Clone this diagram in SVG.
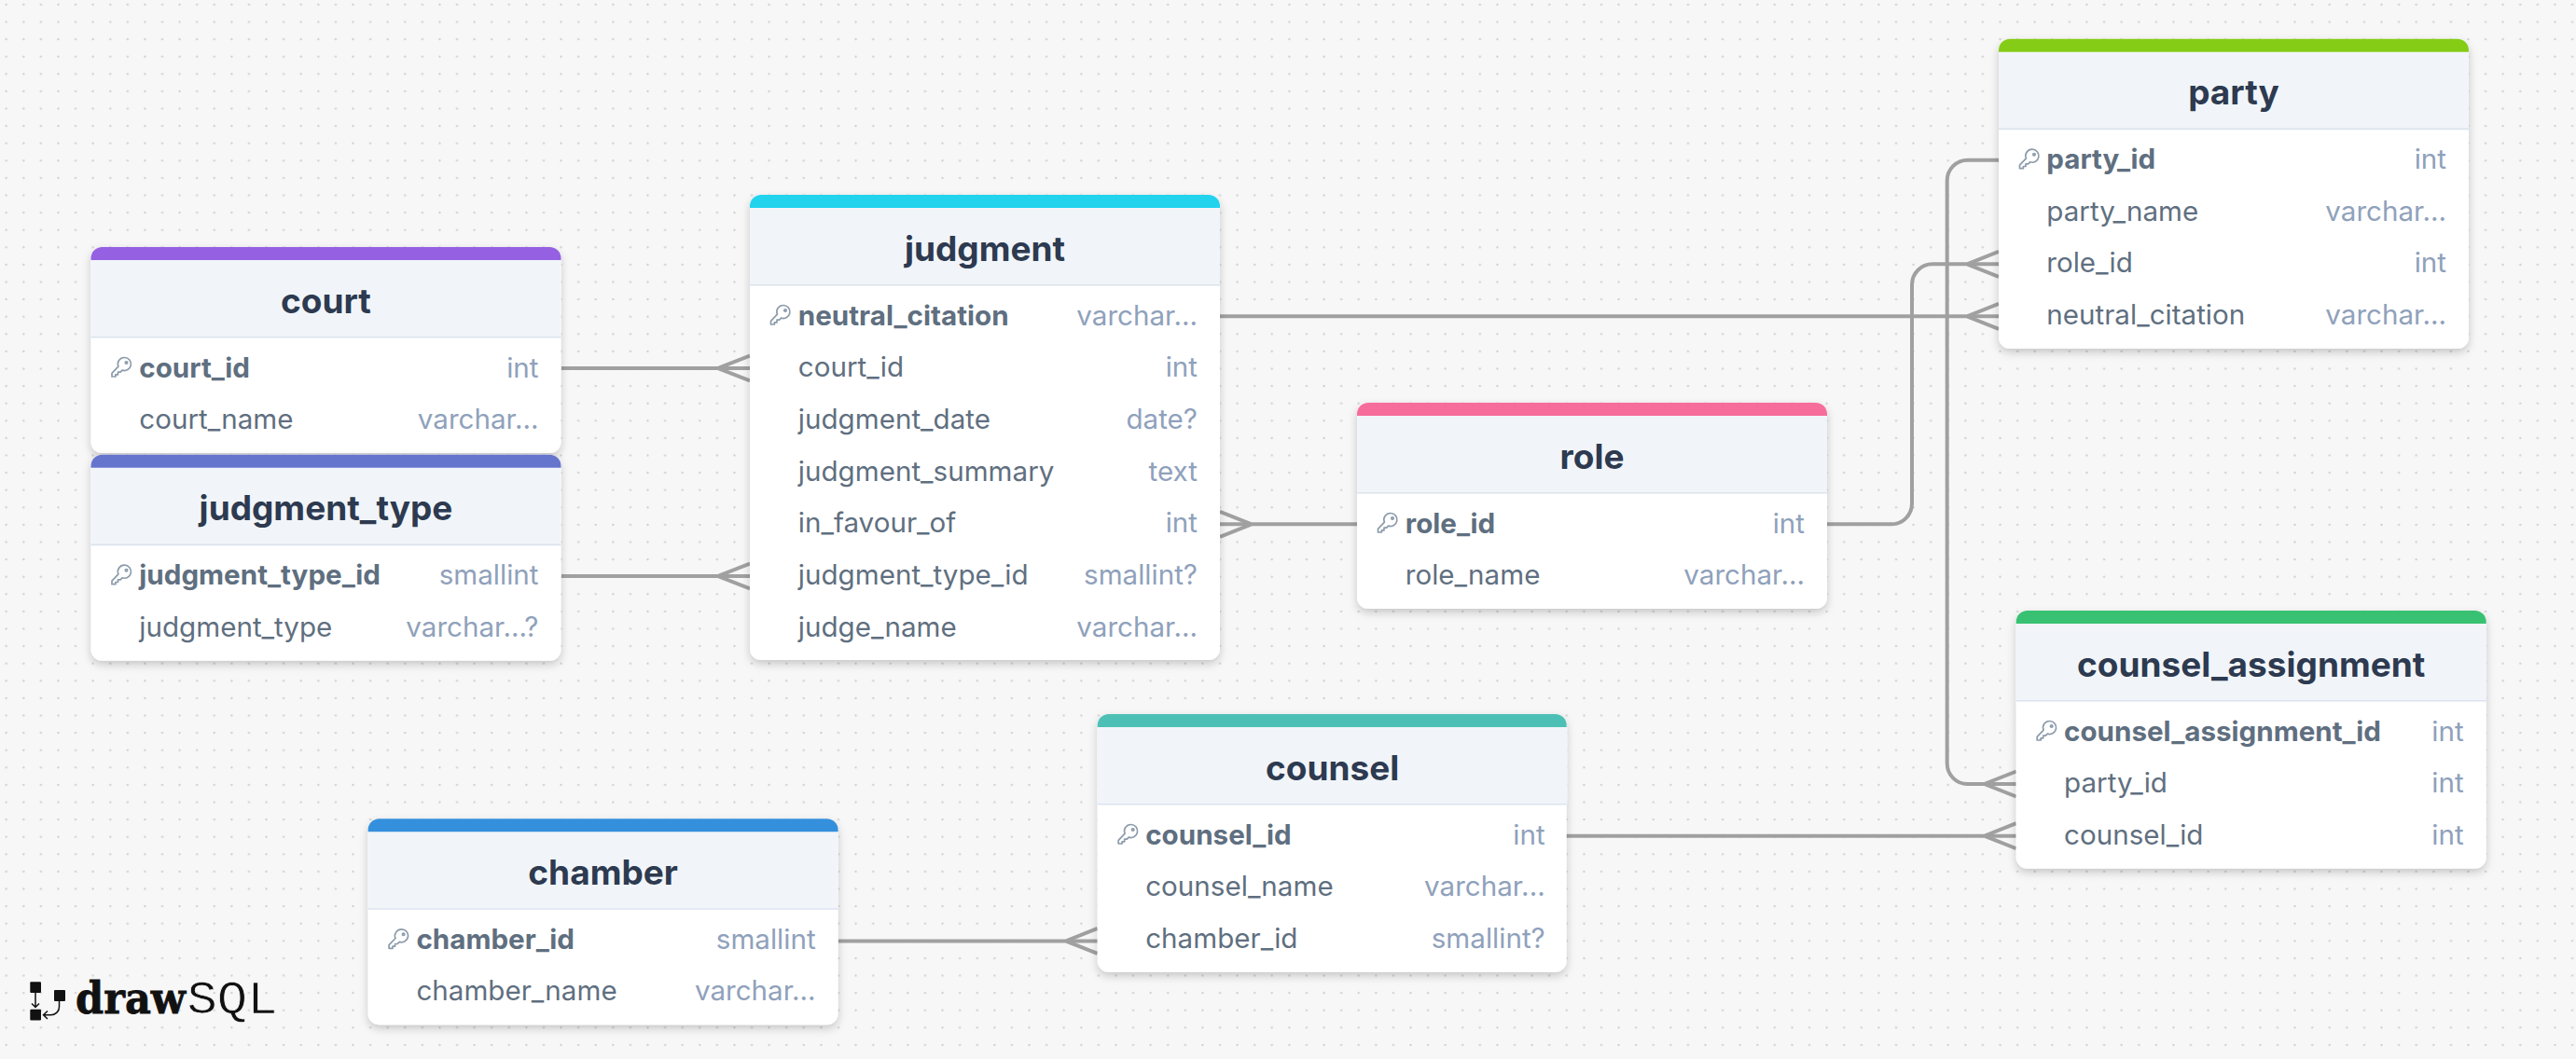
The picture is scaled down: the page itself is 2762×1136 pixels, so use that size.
<svg xmlns="http://www.w3.org/2000/svg" width="2762" height="1136" viewBox="0 0 2762 1136">
<style>
.bg{fill:#f7f7f7}
.card{fill:#fff;filter:url(#sh)}
.hd{fill:#f1f5f9}
.dv{stroke:#dbe3ee;stroke-width:1.6}
.t{font:700 37px Inter,"Liberation Sans",sans-serif;fill:#2d3a50;text-anchor:middle}
.n{font:400 29.6px Inter,"Liberation Sans",sans-serif;fill:#5f6f80}
.k{font:700 29.6px Inter,"Liberation Sans",sans-serif;fill:#5f6f80}
.y{font:400 29.6px Inter,"Liberation Sans",sans-serif;fill:#8fa1bb;text-anchor:end}
.c{fill:none;stroke:#a0a0a0;stroke-width:4}
.ki{fill:none;stroke:#8c9bab;stroke-width:1.7;stroke-linejoin:round}
</style>
<defs>
<pattern id="dots" x="-2.6" y="4.9" width="18.59" height="18.6" patternUnits="userSpaceOnUse"><circle cx="9.3" cy="0" r="1.15" fill="#cfcfcf"/><circle cx="9.3" cy="18.6" r="1.15" fill="#cfcfcf"/></pattern>
<filter id="sh" x="-10%" y="-10%" width="120%" height="125%"><feDropShadow dx="0" dy="4" stdDeviation="5" flood-color="#000" flood-opacity="0.2"/></filter>
<marker id="foot" markerUnits="userSpaceOnUse" viewBox="0 0 34 32" refX="34" refY="16" markerWidth="34" markerHeight="32" orient="auto"><path d="M0 16L34 2.5M0 16L34 29.5" fill="none" stroke="#a0a0a0" stroke-width="4"/></marker>
<g id="key"><path class="ki" d="M15 1.5a7 7 0 1 1-2.4 13.6L10.6 17.2H8V19.8H5.4V22H1.5V18.4L8.4 11.2A7 7 0 0 1 15 1.5z"/><circle cx="17" cy="7" r="1.2" class="ki"/></g>
<path id="hd" class="hd" d="M0 14H504V96.7H0z"/>
</defs>
<rect class="bg" width="2762" height="1136"/>
<rect fill="url(#dots)" width="2762" height="1136"/>
<g id="connectors">
<path class="c" d="M602 395H804" marker-end="url(#foot)"/>
<path class="c" d="M602 618H804" marker-end="url(#foot)"/>
<path class="c" d="M1455 562.3H1308" marker-end="url(#foot)"/>
<path class="c" d="M1958 562.3H2028a22 22 0 0 0 22-22V305.3a22 22 0 0 1 22-22H2143" marker-end="url(#foot)"/>
<path class="c" d="M1308 339.3H2143" marker-end="url(#foot)"/>
<path class="c" d="M2143 171.7H2109.700a22 22 0 0 0-22 22V819a22 22 0 0 0 22 22H2161.700" marker-end="url(#foot)"/>
<path class="c" d="M1679 896.700H2161.700" marker-end="url(#foot)"/>
<path class="c" d="M899 1009.400H1176.700" marker-end="url(#foot)"/>
</g>
<g id="court" transform="translate(97.5 265)">
<rect class="card" width="504" height="221" rx="12"/>
<use href="#hd"/><path fill="#9561e2" d="M0 14V12a12 12 0 0 1 12-12H492a12 12 0 0 1 12 12V14z"/><path class="dv" d="M0 96.700H504"/>
<text class="t" x="252" y="70.700">court</text>
<use href="#key" x="21" y="117"/><text class="k" x="51.800" y="139.500">court_id</text><text class="y" x="480" y="139.500">int</text>
<text class="n" x="51.800" y="195.200">court_name</text><text class="y" x="480" y="195.200">varchar...</text>
</g>
<g id="judgment_type" transform="translate(97.500 487.700)">
<rect class="card" width="504" height="221" rx="12"/>
<use href="#hd"/><path fill="#6574cd" d="M0 14V12a12 12 0 0 1 12-12H492a12 12 0 0 1 12 12V14z"/><path class="dv" d="M0 96.700H504"/>
<text class="t" x="252" y="70.700">judgment_type</text>
<use href="#key" x="21" y="117"/><text class="k" x="51.800" y="139.500">judgment_type_id</text><text class="y" x="480" y="139.500">smallint</text>
<text class="n" x="51.800" y="195.200">judgment_type</text><text class="y" x="480" y="195.200">varchar...?</text>
</g>
<g id="judgment" transform="translate(804 209)">
<rect class="card" width="504" height="499" rx="12"/>
<use href="#hd"/><path fill="#22d3ee" d="M0 14V12a12 12 0 0 1 12-12H492a12 12 0 0 1 12 12V14z"/><path class="dv" d="M0 96.700H504"/>
<text class="t" x="252" y="70.700">judgment</text>
<use href="#key" x="21" y="117"/><text class="k" x="51.800" y="139.500">neutral_citation</text><text class="y" x="480" y="139.500">varchar...</text>
<text class="n" x="51.800" y="195.200">court_id</text><text class="y" x="480" y="195.200">int</text>
<text class="n" x="51.800" y="250.800">judgment_date</text><text class="y" x="480" y="250.800">date?</text>
<text class="n" x="51.800" y="306.500">judgment_summary</text><text class="y" x="480" y="306.500">text</text>
<text class="n" x="51.800" y="362.200">in_favour_of</text><text class="y" x="480" y="362.200">int</text>
<text class="n" x="51.800" y="417.800">judgment_type_id</text><text class="y" x="480" y="417.800">smallint?</text>
<text class="n" x="51.800" y="473.500">judge_name</text><text class="y" x="480" y="473.500">varchar...</text>
</g>
<g id="role" transform="translate(1455 432)">
<rect class="card" width="504" height="221" rx="12"/>
<use href="#hd"/><path fill="#f66d9b" d="M0 14V12a12 12 0 0 1 12-12H492a12 12 0 0 1 12 12V14z"/><path class="dv" d="M0 96.700H504"/>
<text class="t" x="252" y="70.700">role</text>
<use href="#key" x="21" y="117"/><text class="k" x="51.800" y="139.500">role_id</text><text class="y" x="480" y="139.500">int</text>
<text class="n" x="51.800" y="195.200">role_name</text><text class="y" x="480" y="195.200">varchar...</text>
</g>
<g id="party" transform="translate(2143 41.700)">
<rect class="card" width="504" height="332.300" rx="12"/>
<use href="#hd"/><path fill="#84cc16" d="M0 14V12a12 12 0 0 1 12-12H492a12 12 0 0 1 12 12V14z"/><path class="dv" d="M0 96.700H504"/>
<text class="t" x="252" y="70.700">party</text>
<use href="#key" x="21" y="117"/><text class="k" x="51.300" y="139.500">party_id</text><text class="y" x="480" y="139.500">int</text>
<text class="n" x="51.300" y="195.200">party_name</text><text class="y" x="480" y="195.200">varchar...</text>
<text class="n" x="51.300" y="250.800">role_id</text><text class="y" x="480" y="250.800">int</text>
<text class="n" x="51.300" y="306.500">neutral_citation</text><text class="y" x="480" y="306.500">varchar...</text>
</g>
<g id="counsel_assignment" transform="translate(2161.700 655)">
<rect class="card" width="504" height="276.700" rx="12"/>
<use href="#hd"/><path fill="#38c172" d="M0 14V12a12 12 0 0 1 12-12H492a12 12 0 0 1 12 12V14z"/><path class="dv" d="M0 96.700H504"/>
<text class="t" x="252" y="70.700">counsel_assignment</text>
<use href="#key" x="21" y="117"/><text class="k" x="51.300" y="139.500">counsel_assignment_id</text><text class="y" x="480" y="139.500">int</text>
<text class="n" x="51.300" y="195.200">party_id</text><text class="y" x="480" y="195.200">int</text>
<text class="n" x="51.300" y="250.800">counsel_id</text><text class="y" x="480" y="250.800">int</text>
</g>
<g id="counsel" transform="translate(1176.700 766)">
<rect class="card" width="503" height="276.700" rx="12"/>
<use href="#hd"/><path fill="#4dc0b5" d="M0 14V12a12 12 0 0 1 12-12H491a12 12 0 0 1 12 12V14z"/><path class="dv" d="M0 96.700H503"/>
<text class="t" x="252" y="70.700">counsel</text>
<use href="#key" x="21" y="117"/><text class="k" x="51.500" y="139.500">counsel_id</text><text class="y" x="480" y="139.500">int</text>
<text class="n" x="51.500" y="195.200">counsel_name</text><text class="y" x="480" y="195.200">varchar...</text>
<text class="n" x="51.500" y="250.800">chamber_id</text><text class="y" x="480" y="250.800">smallint?</text>
</g>
<g id="chamber" transform="translate(394.600 878.300)">
<rect class="card" width="504" height="221" rx="12"/>
<use href="#hd"/><path fill="#3490dc" d="M0 14V12a12 12 0 0 1 12-12H492a12 12 0 0 1 12 12V14z"/><path class="dv" d="M0 96.700H504"/>
<text class="t" x="252" y="70.700">chamber</text>
<use href="#key" x="21" y="117"/><text class="k" x="51.800" y="139.500">chamber_id</text><text class="y" x="480" y="139.500">smallint</text>
<text class="n" x="51.800" y="195.200">chamber_name</text><text class="y" x="480" y="195.200">varchar...</text>
</g>
<g id="logo">
<rect x="32.300" y="1053.300" width="11.700" height="11.700" rx="1" fill="#111"/>
<rect x="32.300" y="1082.700" width="11.700" height="11.700" rx="1" fill="#111"/>
<rect x="58" y="1062" width="12" height="12" rx="1" fill="#111"/>
<path d="M38 1065V1080M34 1076.500L38 1080.500L42 1076.500" fill="none" stroke="#111" stroke-width="1.500"/>
<path d="M63.500 1074V1080a8.700 8.700 0 0 1-8.700 8.700H47M51 1084.500L46.500 1088.700L51 1093" fill="none" stroke="#111" stroke-width="1.500"/>
<text x="81" y="1086.500" font-family="'DejaVu Serif',serif" font-weight="700" font-size="46" textLength="118" lengthAdjust="spacingAndGlyphs" fill="#111" stroke="#111" stroke-width="0.800">draw</text>
<text x="200.500" y="1086.500" font-family="'Liberation Mono',monospace" font-size="50" textLength="97" lengthAdjust="spacingAndGlyphs" fill="#111" stroke="#f7f7f7" stroke-width="0.700">SQL</text>
</g>
</svg>
